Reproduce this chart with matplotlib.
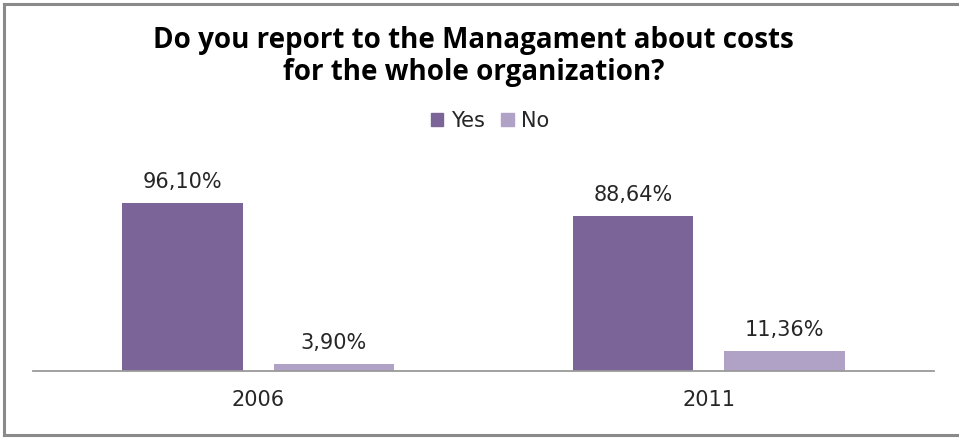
import numpy as np
import matplotlib.pyplot as plt
from matplotlib.lines import Line2D
from matplotlib.patches import Patch

years = ["2006", "2011"]
yes_pct = [96.10, 88.64]
no_pct = [3.90, 11.36]
yes_labels = ["96,10%", "88,64%"]
no_labels = ["3,90%", "11,36%"]

YES_COLOR = "#7b6498"
NO_COLOR = "#b0a2c6"
TEXT_COLOR = "#262626"

fig = plt.figure(figsize=(9.59, 4.4), dpi=100)
ax = fig.add_axes([33 / 959, 69 / 440, 901 / 959, 210 / 440])

x = np.arange(len(years))
width = 0.267
offset = 0.168
bars_yes = ax.bar(x - offset, yes_pct, width, color=YES_COLOR, label="Yes")
bars_no = ax.bar(x + offset, no_pct, width, color=NO_COLOR, label="No")

for bars, labels in ((bars_yes, yes_labels), (bars_no, no_labels)):
    for bar, lab in zip(bars, labels):
        ax.annotate(lab, (bar.get_x() + bar.get_width() / 2, bar.get_height()),
                    xytext=(0, 8), textcoords="offset points",
                    ha="center", va="bottom", fontsize=15, color=TEXT_COLOR,
                    family="DejaVu Sans")

ax.set_xlim(-0.5, 1.5)
ax.set_ylim(0, 120)
ax.set_xticks(x)
ax.set_xticklabels(years, fontsize=15, color=TEXT_COLOR)
ax.tick_params(axis="x", length=0, pad=14)
ax.set_yticks([])
for side in ("left", "right", "top"):
    ax.spines[side].set_visible(False)
ax.spines["bottom"].set_color("#9a9a9a")
ax.spines["bottom"].set_linewidth(1.3)

title_kw = dict(ha="center", va="baseline", fontsize=20, fontweight="bold",
                family="Open Sans", color="black")
fig.text(0.494, 1 - 48 / 440, "Do you report to the Managament about costs", **title_kw)
fig.text(0.494, 1 - 80 / 440, "for the whole organization?", **title_kw)

handles = [Patch(color=YES_COLOR), Patch(color=NO_COLOR)]
fig.legend(handles, ["Yes", "No"], loc="center", bbox_to_anchor=(0.511, 1 - 121 / 440),
           ncol=2, frameon=False, fontsize=15, handlelength=0.6, handleheight=0.6,
           handletextpad=0.35, columnspacing=0.8, labelcolor=TEXT_COLOR)

# frame around the chart area (no right edge)
border = dict(color="#8a8a8a", linewidth=2.2, transform=fig.transFigure)
fig.add_artist(Line2D([4 / 959, 4 / 959], [1 - 4 / 440, 1 - 435 / 440], **border))
fig.add_artist(Line2D([4 / 959, 1], [1 - 4 / 440, 1 - 4 / 440], **border))
fig.add_artist(Line2D([4 / 959, 1], [1 - 435 / 440, 1 - 435 / 440], **border))

fig.savefig("out.png", dpi=100)
